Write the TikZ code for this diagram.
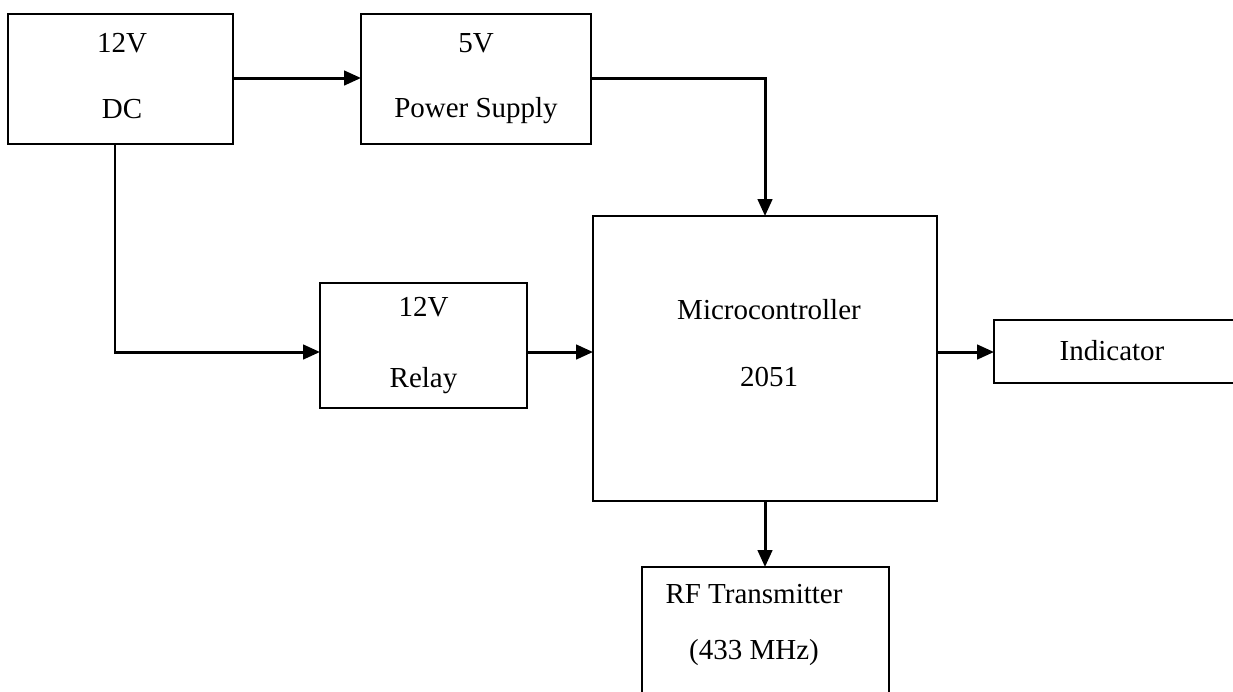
\documentclass[tikz,border=0pt]{standalone}
\usepackage{fontspec}
\setmainfont{Liberation Serif}
\usepackage{tikz}
\usetikzlibrary{
arrows.meta,
positioning,
calc
}
\tikzset{
blkbox/.style={draw=black, line width=1.1pt, inner sep=0pt, outer sep=0pt, align=center,
  font=\fontsize{16.5}{20}\selectfont},
blktext/.style={inner sep=0pt, align=center, font=\fontsize{16.5}{20}\selectfont},
blkarrow/.style={-{Triangle[length=3.4mm, width=2.9mm]}, line width=1.7pt, draw=black}
}

\begin{document}
\begin{tikzpicture}[x=0.02cm, y=-0.02cm]
\useasboundingbox (0,0) rectangle (1233,691);
\node[blkbox, minimum width=4.5cm, minimum height=2.6cm] (dc) at (120.5,79) {};
\node[blktext] (dctext) at (122,76) {12V\\[6mm]DC};
\node[blkbox, minimum width=4.6cm, minimum height=2.6cm] (psu) at (476,79) {5V\\[6mm]Power Supply};
\node[blkbox, minimum width=4.14cm, minimum height=2.5cm] (relay) at (423.5,345.5) {12V\\[7mm]Relay};
\node[blkbox, minimum width=6.88cm, minimum height=5.7cm] (mcu) at (765,358.5) {};
\node[blktext] (mcutext) at (769,343) {Microcontroller\\[6.4mm]2051};
\node[blkbox, minimum width=4.92cm, minimum height=1.26cm] (ind) at (1117,351.5) {};
\node[blktext] (indtext) at (1112,351) {Indicator};
\node[blkbox, minimum width=4.94cm, minimum height=2.66cm] (rf) at (765.5,633.5) {};
\node[blktext] (rftext) at (754,625) {RF Transmitter\\[4.2mm](433 MHz)};
\coordinate (bus) at (0,352);

\draw[blkarrow] (dc.east |- 0,78) -- (psu.west |- 0,78);
\draw[blkarrow] (psu.east |- 0,78) -| (mcu.north);
\draw[blkarrow] ([xshift=-0.11cm]dc.south) |- (relay.west |- bus);
\draw[blkarrow] (relay.east |- bus) -- (mcu.west |- bus);
\draw[blkarrow] (mcu.east |- bus) -- (ind.west |- bus);
\draw[blkarrow] (mcu.south) -- (mcu.south |- rf.north);
\end{tikzpicture}
\end{document}
